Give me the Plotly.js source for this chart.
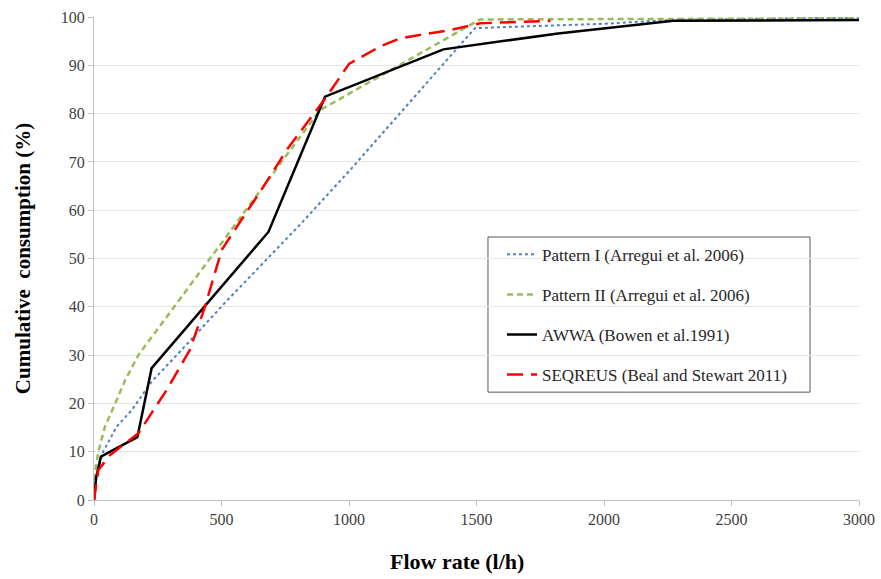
<!DOCTYPE html>
<html>
<head>
<meta charset="utf-8">
<script src="https://cdn.plot.ly/plotly-3.0.1.min.js"></script>
<style>html,body{margin:0;padding:0;background:#fff}#chart{width:881px;height:579px}</style>
</head>
<body>
<div id="chart"></div>
<script>
// Pattern I (Arregui et al. 2006)
const p1X = [0, 10, 36, 89, 148, 226, 344, 520, 808, 1004, 1494, 2000, 2270, 3000];
const p1Y = [0, 5, 10, 15.2, 18.6, 24.5, 31.1, 41.2, 57, 68.3, 97.7, 98.6, 99.4, 99.9];
// Pattern II (Arregui et al. 2006)
const p2X = [0, 5, 17, 43, 89, 122, 174, 886, 1200, 1514, 3000];
const p2Y = [0, 6, 10, 15.2, 20.7, 24.8, 30, 80.7, 90.1, 99.5, 99.7];
// AWWA (Bowen et al.1991)
const awX = [0, 8, 27, 170, 226, 684, 906, 1370, 1820, 2272, 3000];
const awY = [0, 4.5, 9, 13, 27.3, 55.5, 83.5, 93.3, 96.6, 99.2, 99.4];
// SEQREUS (Beal and Stewart 2011)
const sqX = [0, 17, 63, 122, 174, 285, 376, 435, 501, 573, 651, 756, 912, 1000, 1122, 1200, 1396, 1514, 1790];
const sqY = [0, 6.2, 9.3, 11.7, 13.8, 22.8, 31.1, 40, 51.8, 57.6, 63.8, 72.5, 83.5, 90.3, 93.9, 95.6, 97.3, 98.7, 99.2];

const names = ["Pattern I (Arregui et al. 2006)", "Pattern II (Arregui et al. 2006)", "AWWA (Bowen et al.1991)", "SEQREUS (Beal and Stewart 2011)"];
const xTitle = "Flow rate (l/h)";
const yTitle = "Cumulative  consumption (%)";

const traces = [
  {x: p1X, y: p1Y, name: names[0], legendgroup: "a", mode: "lines", line: {color: "#4F81BD", width: 2, dash: "dot"}},
  {x: p2X, y: p2Y, name: names[1], legendgroup: "b", mode: "lines", line: {color: "#9BBB59", width: 2.5, dash: "6px,4px"}},
  {x: awX, y: awY, name: names[2], legendgroup: "c", mode: "lines", line: {color: "#000000", width: 2.5}},
  {x: sqX, y: sqY, name: names[3], legendgroup: "d", mode: "lines", line: {color: "#FF0000", width: 2.5, dash: "16px,8px"}}
];

const serif = "'Liberation Serif', serif";
const layout = {
  width: 881, height: 579,
  margin: {l: 94, r: 22, t: 17, b: 79},
  paper_bgcolor: "#fff", plot_bgcolor: "#fff",
  showlegend: true,
  legend: {
    x: 0.5333, y: 0.545, xanchor: "left", yanchor: "top",
    borderwidth: 0, bgcolor: "rgba(0,0,0,0)",
    font: {family: serif, size: 17, color: "#262626"},
    tracegroupgap: 15, traceorder: "grouped", itemwidth: 30
  },
  shapes: [{
    type: "rect", xref: "paper", yref: "paper",
    x0: 0.515, x1: 0.936, y0: 0.2233, y1: 0.5445,
    line: {color: "#595959", width: 1}, fillcolor: "#fff", layer: "below"
  }],
  annotations: [{
    xref: "paper", yref: "paper", x: 0.474, y: -0.128, xanchor: "center", yanchor: "middle",
    text: "<b>" + xTitle + "</b>", showarrow: false,
    font: {family: serif, size: 22, color: "#000"}
  }],
  xaxis: {
    range: [0, 3000], dtick: 500, tick0: 0,
    showgrid: false, zeroline: false,
    showline: true, linecolor: "#bfbfbf", linewidth: 1,
    ticks: "outside", ticklen: 5, tickcolor: "#bfbfbf",
    tickfont: {family: serif, size: 16, color: "#404040"}
  },
  yaxis: {
    range: [0, 100], dtick: 10, tick0: 0,
    showgrid: true, gridcolor: "#e6e6e6", gridwidth: 1, zeroline: false,
    showline: true, linecolor: "#bfbfbf", linewidth: 1,
    ticks: "outside", ticklen: 5, tickcolor: "#bfbfbf",
    tickfont: {family: serif, size: 16, color: "#404040"},
    title: {text: "<b>" + yTitle + "</b>", font: {family: serif, size: 21, color: "#000"}, standoff: 24}
  }
};

Plotly.newPlot("chart", traces, layout, {displayModeBar: false, staticPlot: true});
</script>
</body>
</html>
